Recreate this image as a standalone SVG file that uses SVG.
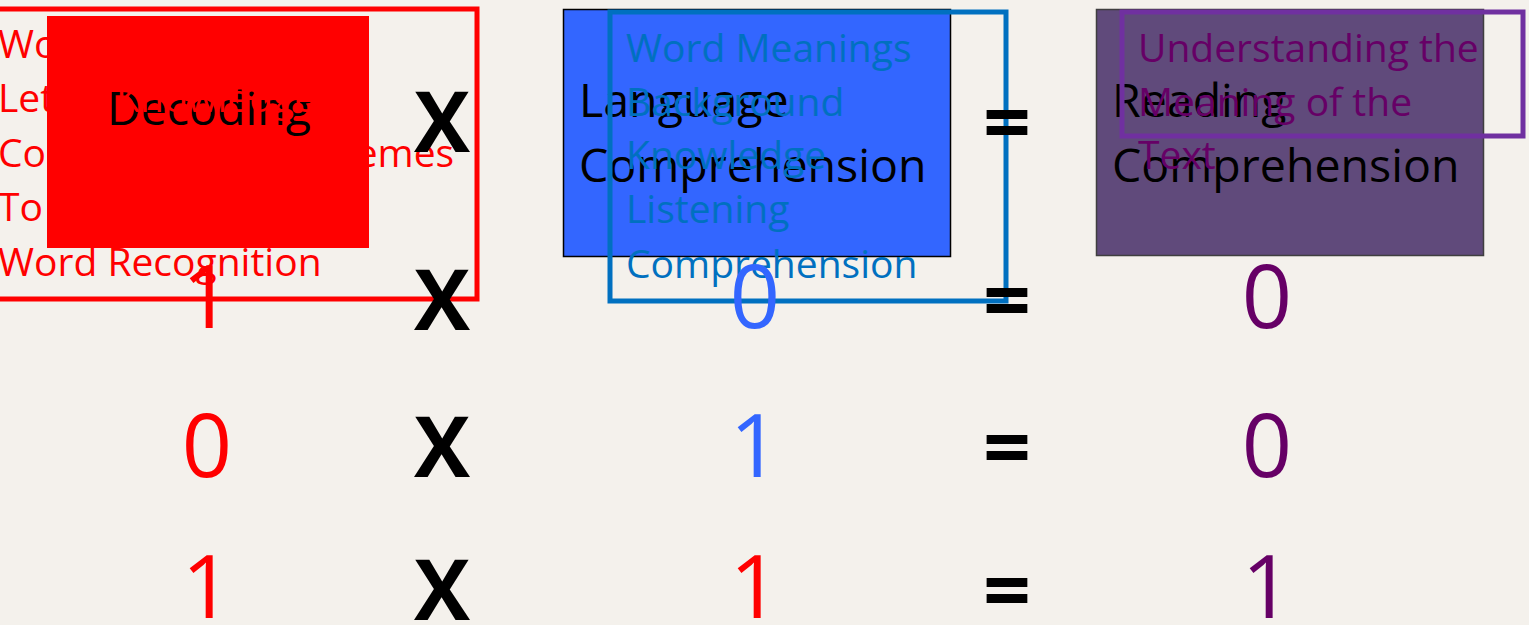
<svg xmlns="http://www.w3.org/2000/svg" width="1529" height="625" viewBox="0 0 1529 625">
<style>
.box{font-family:"Open Sans","Liberation Sans",sans-serif;font-size:46.5px;fill:#000}
.lst{font-family:"Open Sans","Liberation Sans",sans-serif;font-size:39px}
.num{font-family:"Open Sans","Liberation Sans",sans-serif;font-size:88px;text-anchor:middle}
.op{font-family:"Open Sans","Liberation Sans",sans-serif;font-size:84px;font-weight:bold;text-anchor:middle;fill:#000}
</style>
<rect x="0" y="0" width="1529" height="625" fill="#F4F1EC"/>
<g id="decoding">
<rect x="47" y="16" width="322" height="232" fill="#FF0000"/>
<text class="box" x="107" y="125">Decoding</text>
</g>
<g id="decoding-detail">
<rect x="-5" y="9" width="482" height="290" fill="none" stroke="#FF0000" stroke-width="5"/>
<text class="lst" fill="#FF0000"><tspan x="-2" y="58">Word Attack</tspan><tspan x="-2" y="112">Letter Knowledge</tspan><tspan x="-2" y="167">Connecting to Phonemes</tspan><tspan x="-2" y="221">To</tspan><tspan x="-2" y="276">Word Recognition</tspan></text>
</g>
<g id="language">
<rect x="563.5" y="9.5" width="387" height="247" fill="#3366FF" stroke="#000" stroke-width="1.5"/>
<text class="box"><tspan x="579" y="117">Language</tspan><tspan x="579" y="182">Comprehension</tspan></text>
</g>
<g id="language-detail">
<rect x="610" y="12" width="396" height="289" fill="none" stroke="#0070C0" stroke-width="5"/>
<text class="lst" fill="#0070C0"><tspan x="626" y="62">Word Meanings</tspan><tspan x="626" y="116">Background</tspan><tspan x="626" y="169">Knowledge</tspan><tspan x="626" y="223">Listening</tspan><tspan x="626" y="278">Comprehension</tspan></text>
</g>
<g id="reading">
<rect x="1096.5" y="9.5" width="387" height="246" fill="#604A7B" stroke="#3F3F3F" stroke-width="1.5"/>
<text class="box"><tspan x="1112" y="117">Reading</tspan><tspan x="1112" y="182">Comprehension</tspan></text>
</g>
<g id="reading-detail">
<rect x="1122" y="12" width="401" height="124" fill="none" stroke="#7030A0" stroke-width="5"/>
<text class="lst" fill="#660066"><tspan x="1138" y="62">Understanding the</tspan><tspan x="1138" y="116">Meaning of the</tspan><tspan x="1138" y="169">Text</tspan></text>
</g>
<g id="operators">
<text class="op" x="442" y="152">X</text>
<text class="op" x="1007" y="152">=</text>
<text class="op" x="442" y="330">X</text>
<text class="op" x="1007" y="330">=</text>
<text class="op" x="442" y="477">X</text>
<text class="op" x="1007" y="477">=</text>
<text class="op" x="442" y="620">X</text>
<text class="op" x="1007" y="620">=</text>
</g>
<g id="values">
<text class="num" fill="#FF0000" x="207" y="328">1</text>
<text class="num" fill="#3366FF" x="755" y="328">0</text>
<text class="num" fill="#660066" x="1267" y="328">0</text>
<text class="num" fill="#FF0000" x="207" y="477">0</text>
<text class="num" fill="#3366FF" x="755" y="477">1</text>
<text class="num" fill="#660066" x="1267" y="477">0</text>
<text class="num" fill="#FF0000" x="207" y="618">1</text>
<text class="num" fill="#FF0000" x="755" y="618">1</text>
<text class="num" fill="#660066" x="1267" y="618">1</text>
</g>
</svg>
